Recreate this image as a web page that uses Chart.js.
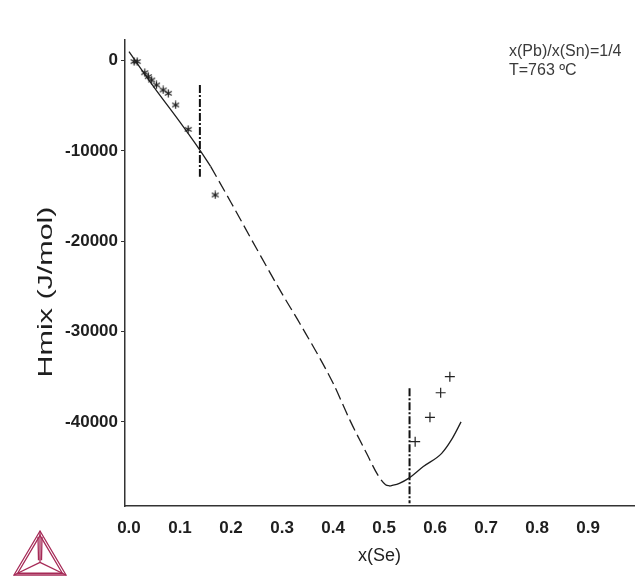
<!DOCTYPE html>
<html>
<head>
<meta charset="utf-8">
<script src="https://cdn.jsdelivr.net/npm/chart.js@4.4.0/dist/chart.umd.min.js"></script>
<style>
html, body { margin: 0; padding: 0; background: #fff; }
#wrap { width: 635px; height: 578px; }
</style>
</head>
<body>
<div id="wrap"><canvas id="hmixChart" width="635" height="578"></canvas></div>
<script>
// calculated Hmix curve, in three pieces (solid / dashed / solid)
const calcX1 = [0.0, 0.05, 0.10, 0.139, 0.16];
const calcH1 = [1000, -3000, -6800, -9900, -11700];
const calcX2 = [0.16, 0.20, 0.25, 0.30, 0.335, 0.40, 0.433, 0.466, 0.488, 0.503, 0.512];
const calcH2 = [-11700, -15700, -20800, -25800, -29100, -35700, -39800, -43500, -45900, -46950, -47100];
const calcX3 = [0.512, 0.53, 0.548, 0.577, 0.613, 0.632, 0.651];
const calcH3 = [-47100, -46800, -46250, -44950, -43480, -42000, -40000];

// experimental points
const expStarX = [0.010, 0.016, 0.031, 0.038, 0.0445, 0.054, 0.067, 0.077, 0.0915, 0.116, 0.169];
const expStarH = [-100, -100, -1330, -1770, -2140, -2690, -3240, -3610, -4900, -7600, -14870];
const expPlusX = [0.561, 0.590, 0.611, 0.629];
const expPlusH = [-42190, -39490, -36770, -34990];

// phase boundary markers (dash-dot)
const boundX1 = [0.139, 0.139];
const boundH1 = [-2690, -12850];
const boundX2 = [0.55, 0.55];
const boundH2 = [-36280, -49000];

// axis ticks
const xTicks = [0.0, 0.1, 0.2, 0.3, 0.4, 0.5, 0.6, 0.7, 0.8, 0.9];
const yTicks = [-40000, -30000, -20000, -10000, 0];

const FONT = '"Liberation Sans", Arial, sans-serif';

function toPoints(xs, ys) {
    return xs.map((x, i) => ({ x: x, y: ys[i] }));
}

function makeAsterisk(size, color) {
    const c = document.createElement('canvas');
    c.width = size;
    c.height = size;
    const g = c.getContext('2d');
    const m = size / 2, r = size / 2 - 0.5;
    g.strokeStyle = color;
    g.lineWidth = 1.2;
    g.beginPath();
    for (let k = 0; k < 3; k++) {
        const a = Math.PI / 2 + k * Math.PI / 3;
        g.moveTo(m + r * Math.cos(a), m - r * Math.sin(a));
        g.lineTo(m - r * Math.cos(a), m + r * Math.sin(a));
    }
    g.stroke();
    return c;
}

// extra drawing: y title, annotation and logo
const decorPlugin = {
    id: 'decor',
    afterDraw(chart) {
        const ctx = chart.ctx;

        // y axis title (stretched like in the original)
        const title = 'Hmix (J/mol)';
        ctx.save();
        ctx.translate(46, 292);
        ctx.rotate(-Math.PI / 2);
        ctx.font = '21px ' + FONT;
        const w = ctx.measureText(title).width;
        ctx.scale(171 / w, 1);
        ctx.fillStyle = '#1e1e1e';
        ctx.textAlign = 'center';
        ctx.textBaseline = 'middle';
        ctx.fillText(title, 0, 0);
        ctx.restore();

        // annotation
        ctx.save();
        ctx.font = '16px ' + FONT;
        ctx.fillStyle = '#3a3a3a';
        ctx.textAlign = 'left';
        ctx.textBaseline = 'alphabetic';
        ctx.fillText('x(Pb)/x(Sn)=1/4', 509, 56);
        ctx.fillText('T=763 ºC', 509, 75);
        ctx.restore();

        // Thermo-Calc style logo
        const A = [40, 531], B = [14, 575], C = [66, 575];
        const G = [(A[0] + B[0] + C[0]) / 3, (A[1] + B[1] + C[1]) / 3 + 2];
        const shrink = (P, f) => [G[0] + (P[0] - G[0]) * f, G[1] + (P[1] - G[1]) * f];
        ctx.save();
        ctx.strokeStyle = '#a62a57';
        ctx.lineWidth = 1.3;
        [1, 0.86].forEach(f => {
            const a = shrink(A, f), b = shrink(B, f), c = shrink(C, f);
            ctx.beginPath();
            ctx.moveTo(a[0], a[1]);
            ctx.lineTo(b[0], b[1]);
            ctx.lineTo(c[0], c[1]);
            ctx.closePath();
            ctx.stroke();
        });
        ctx.beginPath();
        [A, B, C].forEach(P => {
            ctx.moveTo(G[0], G[1]);
            ctx.lineTo(P[0], P[1]);
        });
        ctx.moveTo(A[0] - 2, A[1] + 6);
        ctx.lineTo(G[0] - 1.5, G[1] - 2);
        ctx.moveTo(A[0] + 2, A[1] + 6);
        ctx.lineTo(G[0] + 1.5, G[1] - 2);
        ctx.stroke();
        ctx.restore();
    }
};

document.addEventListener("DOMContentLoaded", function () {
    const ctx = document.getElementById("hmixChart");
    const curveStyle = {
        showLine: true,
        borderColor: '#1e1e1e',
        borderWidth: 1.3,
        pointRadius: 0,
        fill: false,
        cubicInterpolationMode: 'monotone'
    };
    const boundStyle = {
        showLine: true,
        borderColor: '#111',
        borderWidth: 2,
        borderDash: [8, 2, 2, 2],
        pointRadius: 0,
        fill: false
    };

    new Chart(ctx, {
        type: 'scatter',
        data: {
            datasets: [
                Object.assign({ label: 'calc 1', data: toPoints(calcX1, calcH1) }, curveStyle),
                Object.assign({ label: 'calc 2', data: toPoints(calcX2, calcH2), borderDash: [12, 5] }, curveStyle),
                Object.assign({ label: 'calc 3', data: toPoints(calcX3, calcH3) }, curveStyle),
                Object.assign({ label: 'boundary 1', data: toPoints(boundX1, boundH1) }, boundStyle),
                Object.assign({ label: 'boundary 2', data: toPoints(boundX2, boundH2) }, boundStyle),
                {
                    label: 'exp *',
                    data: toPoints(expStarX, expStarH),
                    pointStyle: makeAsterisk(9, '#1e1e1e'),
                    pointRadius: 4.5,
                    showLine: false
                },
                {
                    label: 'exp +',
                    data: toPoints(expPlusX, expPlusH),
                    pointStyle: 'cross',
                    pointRadius: 5,
                    borderColor: '#222',
                    borderWidth: 1.2,
                    showLine: false
                }
            ]
        },
        options: {
            responsive: false,
            animation: false,
            devicePixelRatio: 1,
            layout: { autoPadding: false, padding: { top: 40, right: 1, left: 0, bottom: 0 } },
            plugins: {
                legend: { display: false },
                tooltip: { enabled: false }
            },
            scales: {
                x: {
                    type: 'linear',
                    min: -0.0078,
                    max: 0.99,
                    afterBuildTicks: scale => { scale.ticks = xTicks.map(v => ({ value: v })); },
                    afterFit: scale => {
                        scale.height = 72;
                        scale.paddingLeft = 0;
                        scale.paddingRight = 0;
                    },
                    grid: { display: false },
                    border: { display: true, color: '#333', width: 1.5 },
                    ticks: {
                        callback: v => v.toFixed(1),
                        font: { family: FONT, size: 17, weight: 'bold' },
                        color: '#1e1e1e',
                        padding: 4,
                        maxRotation: 0
                    },
                    title: { display: true, text: 'x(Se)', font: { family: FONT, size: 18 }, color: '#1e1e1e', padding: { top: 0, bottom: 11 } }
                },
                y: {
                    type: 'linear',
                    min: -49313,
                    max: 2292,
                    afterBuildTicks: scale => { scale.ticks = yTicks.map(v => ({ value: v })); },
                    afterFit: scale => {
                        scale.width = 125;
                        scale.paddingTop = 0;
                        scale.paddingBottom = 0;
                    },
                    grid: { display: true, drawOnChartArea: false, drawTicks: true, tickLength: 4, color: '#333' },
                    border: { display: true, color: '#333', width: 1.5 },
                    ticks: {
                        callback: v => String(v),
                        font: { family: FONT, size: 17, weight: 'bold' },
                        color: '#1e1e1e',
                        padding: 3
                    }
                }
            }
        },
        plugins: [decorPlugin]
    });
});
</script>
</body>
</html>
